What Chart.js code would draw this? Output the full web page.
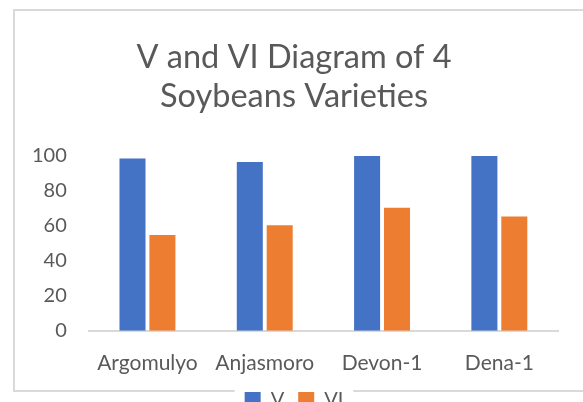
<!DOCTYPE html>
<html lang="en">
<head>
    <meta charset="UTF-8">
    <title>V and VI Diagram</title>
    <style>
        html, body { margin: 0; padding: 0; background: #fff; overflow: hidden; }
        .chart-container { position: relative; width: 583px; height: 420px; }
    </style>
    <script src="https://cdn.jsdelivr.net/npm/chart.js"></script>
</head>
<body>
    <div class="chart-container">
        <canvas id="vviChart"></canvas>
    </div>

    <script>
        const varieties = ['Argomulyo', 'Anjasmoro', 'Devon-1', 'Dena-1'];
        const vValues = [98, 96, 99.5, 99.5];
        const viValues = [54.5, 60, 70, 65];
        const yTicks = [0, 20, 40, 60, 80, 100];

        const textColor = '#595959';
        const lineColor = '#d9d9d9';

        // light frame around the chart, with the legend sitting on the bottom edge
        const framePlugin = {
            id: 'frame',
            beforeDraw(chart) {
                const ctx = chart.ctx;
                ctx.save();
                ctx.strokeStyle = lineColor;
                ctx.lineWidth = 2;
                ctx.beginPath();
                ctx.moveTo(583, 10);
                ctx.lineTo(14, 10);
                ctx.lineTo(14, 391);
                ctx.lineTo(583, 391);
                ctx.stroke();
                const boxes = chart.legend.legendHitBoxes;
                if (boxes && boxes.length) {
                    const left = Math.min(...boxes.map(b => b.left)) - 10;
                    const right = Math.max(...boxes.map(b => b.left + b.width)) + 10;
                    ctx.fillStyle = '#fff';
                    ctx.fillRect(left, 385, right - left, 12);
                }
                ctx.restore();
            }
        };

        const chart = new Chart(document.getElementById('vviChart').getContext('2d'), {
            type: 'bar',
            data: {
                labels: varieties,
                datasets: [{
                    label: 'V',
                    data: vValues,
                    backgroundColor: '#4472C4'
                }, {
                    label: 'VI',
                    data: viValues,
                    backgroundColor: '#ED7D31'
                }]
            },
            options: {
                responsive: true,
                maintainAspectRatio: false,
                animation: false,
                categoryPercentage: 0.51,
                barPercentage: 0.87,
                layout: { padding: { left: 10, right: 5, top: 39, bottom: 0 } },
                plugins: {
                    title: {
                        display: true,
                        text: ['V and VI Diagram of 4', 'Soybeans Varieties'],
                        color: textColor,
                        font: { family: 'Lato', size: 32.5, weight: 'normal', lineHeight: 1.17 },
                        padding: { top: 0, bottom: 40 }
                    },
                    legend: {
                        position: 'bottom',
                        labels: {
                            color: textColor,
                            font: { family: 'Lato', size: 20 },
                            boxWidth: 16,
                            boxHeight: 16,
                            padding: 14
                        }
                    },
                    tooltip: { enabled: false }
                },
                scales: {
                    x: {
                        grid: { display: false, drawTicks: false },
                        border: { color: lineColor, width: 2 },
                        ticks: { color: textColor, font: { family: 'Lato', size: 21 }, padding: 20 },
                        afterFit: scale => { scale.height -= 20; }
                    },
                    y: {
                        min: 0,
                        max: 100,
                        grid: { display: false, drawTicks: false },
                        border: { display: false },
                        afterBuildTicks: axis => { axis.ticks = yTicks.map(v => ({ value: v })); },
                        ticks: { color: textColor, font: { family: 'Lato', size: 20 }, padding: 22 }
                    },
                    // empty strip on the right so the plot ends before the frame edge
                    yRight: {
                        position: 'right',
                        grid: { display: false, drawTicks: false },
                        border: { display: false },
                        ticks: { display: false },
                        afterFit: scale => { scale.width = 20; }
                    }
                }
            },
            plugins: [framePlugin]
        });
    </script>
</body>
</html>
